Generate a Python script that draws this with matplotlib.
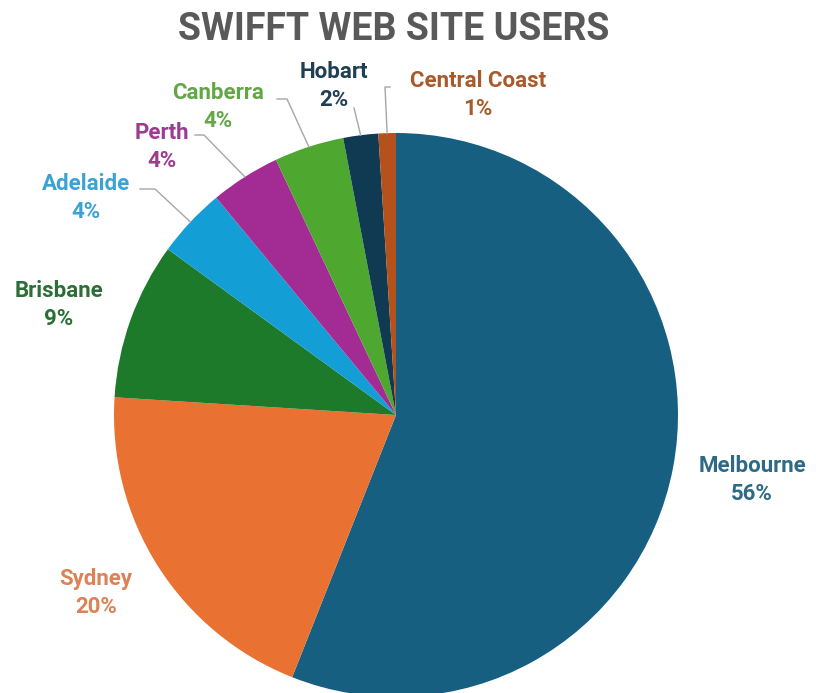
import matplotlib
matplotlib.use("Agg")
import matplotlib.pyplot as plt
import numpy as np

# ---- data ----
cities = ["Melbourne", "Sydney", "Brisbane", "Adelaide", "Perth", "Canberra", "Hobart", "Central Coast"]
shares = [56, 20, 9, 4, 4, 4, 2, 1]
pct_labels = ["56%", "20%", "9%", "4%", "4%", "4%", "2%", "1%"]
title = "SWIFFT WEB SITE USERS"

# ---- style / layout ----
colors = ["#175f81", "#e97132", "#1d7a2a", "#139fd6", "#a32b94", "#4ea72e", "#0f3a52", "#b5511b"]
text_colors = ["#2e6a86", "#dc8256", "#2b6f34", "#3aa3d4", "#9c3b90", "#62a648", "#1f3f55", "#a85a2c"]
W, H = 816, 693
cx, cy, R = 396, H - 415, 282
# label centers (pixel coords, y from top)
label_pos = {
    "Melbourne": (752, 480), "Sydney": (96, 593), "Brisbane": (59, 305),
    "Adelaide": (86, 198), "Perth": (162, 147), "Canberra": (218, 107),
    "Hobart": (334, 86), "Central Coast": (478, 95),
}
# leader elbow points (pixel coords, y from top)
leaders = {
    "Adelaide": [(140, 189), (155, 189)],
    "Perth": [(195, 135), (204, 135)],
    "Canberra": [(277, 99), (287, 99)],
    "Hobart": [(354, 108)],
    "Central Coast": [(390, 87), (385, 87)],
}

fig = plt.figure(figsize=(W / 100, H / 100), dpi=100)
ax = fig.add_axes([0, 0, 1, 1])

wedges, _ = ax.pie(shares, colors=colors, startangle=90, counterclock=False,
                   center=(cx, cy), radius=R, frame=True,
                   wedgeprops=dict(linewidth=0))
ax.set_xlim(0, W)
ax.set_ylim(0, H)
ax.set_aspect("equal")
ax.axis("off")

font = "Roboto"
ax.text(394, H - 30, title, ha="center", va="center", fontsize=27,
        fontweight="bold", color="#595959", family=font)

cum = np.cumsum([0] + shares)
total = sum(shares)
for i, name in enumerate(cities):
    x, y = label_pos[name]
    ax.text(x, H - y, f"{name}\n{pct_labels[i]}", ha="center", va="center",
            fontsize=16, fontweight="bold", color=text_colors[i], family=font,
            linespacing=1.4, multialignment="center")
    if name in leaders:
        mid = 90 - 360 * (cum[i] + cum[i + 1]) / 2 / total
        ex = cx + R * np.cos(np.radians(mid))
        ey = cy + R * np.sin(np.radians(mid))
        pts = [(px, H - py) for px, py in leaders[name]] + [(ex, ey)]
        xs, ys = zip(*pts)
        ax.plot(xs, ys, color="#a6a6a6", linewidth=1.0)

fig.savefig("out.png", dpi=100)
